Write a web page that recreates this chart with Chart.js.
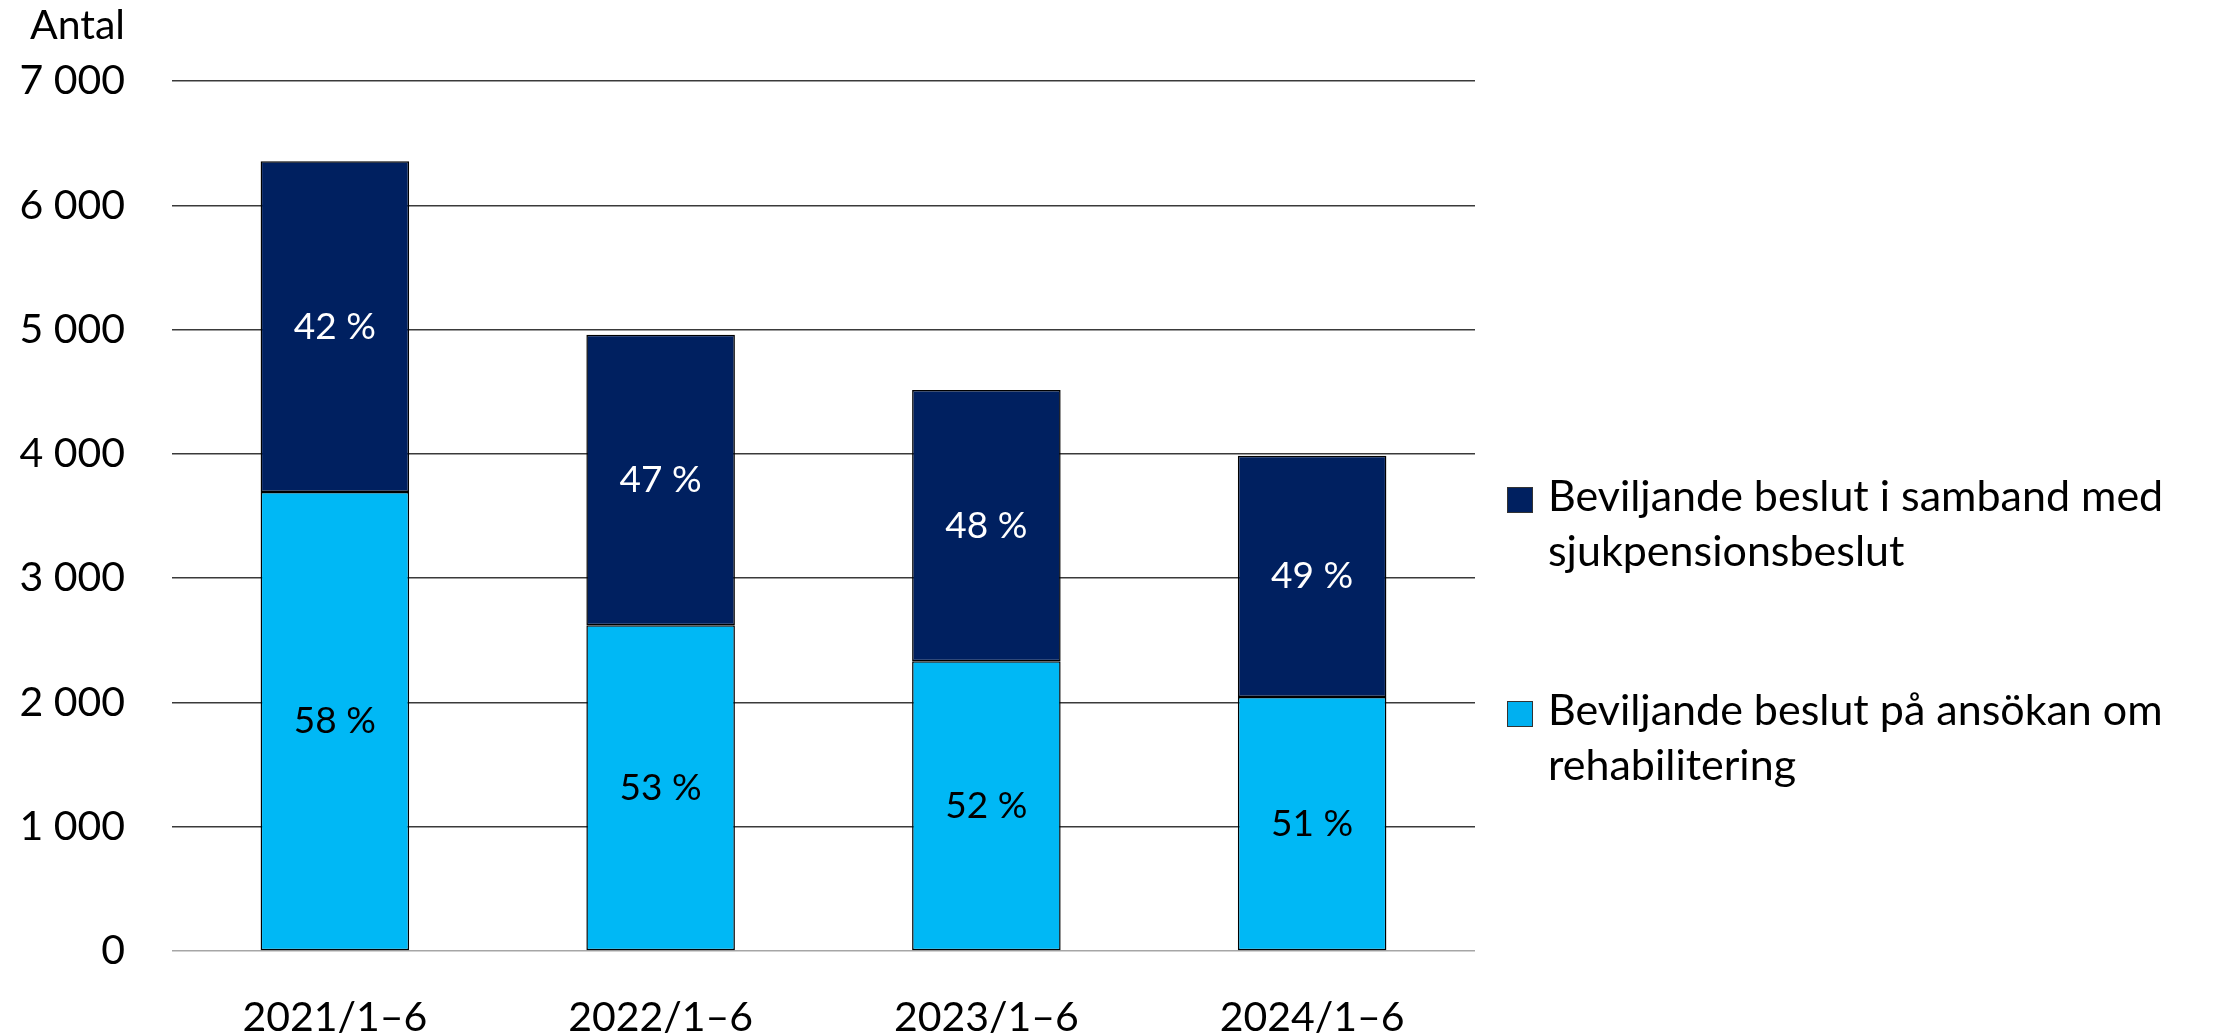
<!DOCTYPE html>
<html lang="sv">
<head>
    <meta charset="UTF-8">
    <title>Beviljande beslut</title>
    <script src="https://cdn.jsdelivr.net/npm/chart.js"></script>
    <style>
        html, body {
            margin: 0;
            padding: 0;
            background: white;
            font-family: Lato, sans-serif;
        }
        #wrap {
            position: relative;
            width: 2214px;
            height: 1034px;
        }
        #antal {
            position: absolute;
            left: 0;
            width: 125px;
            top: 3px;
            text-align: right;
            font-size: 41px;
            line-height: 41px;
            color: black;
        }
        .item {
            position: absolute;
            left: 1548px;
            font-size: 43px;
            line-height: 55px;
            white-space: nowrap;
            color: black;
        }
        .box {
            position: absolute;
            left: -41px;
            top: 20px;
            width: 24px;
            height: 24px;
            border: 1px solid #333;
        }
    </style>
</head>
<body>
<div id="wrap">
    <canvas id="myChart" width="2214" height="1034"></canvas>
    <div id="antal">Antal</div>
    <div class="item" style="top:467px"><span class="box" style="background:#002060"></span>Beviljande beslut i samband med<br>sjukpensionsbeslut</div>
    <div class="item" style="top:681px"><span class="box" style="background:#00B0F0"></span>Beviljande beslut på ansökan om<br>rehabilitering</div>
</div>

<script>
    // data
    var periods = ['2021/1–6', '2022/1–6', '2023/1–6', '2024/1–6'];
    var rehab = [3693, 2620, 2331, 2043];        // beslut på ansökan om rehabilitering
    var sjukpension = [2662, 2338, 2182, 1942];  // i samband med sjukpensionsbeslut
    var rehabPct = ['58 %', '53 %', '52 %', '51 %'];
    var sjukPct = ['42 %', '47 %', '48 %', '49 %'];
    var yTicks = [0, 1000, 2000, 3000, 4000, 5000, 6000, 7000];

    function fmt(v) {
        return String(v).replace(/\B(?=(\d{3})+(?!\d))/g, ' ');
    }

    // draws the share labels in the middle of each bar piece
    var pctLabels = {
        id: 'pctLabels',
        afterDatasetsDraw: function(chart) {
            var ctx = chart.ctx;
            var texts = [rehabPct, sjukPct];
            var colors = ['black', 'white'];
            ctx.save();
            ctx.font = '37px Lato';
            ctx.textAlign = 'center';
            ctx.textBaseline = 'middle';
            chart.data.datasets.forEach(function(ds, i) {
                var meta = chart.getDatasetMeta(i);
                ctx.fillStyle = colors[i];
                meta.data.forEach(function(bar, j) {
                    ctx.fillText(texts[i][j], bar.x, (bar.y + bar.base) / 2);
                });
            });
            ctx.restore();
        }
    };

    var ctx = document.getElementById('myChart').getContext('2d');
    var myChart = new Chart(ctx, {
        type: 'bar',
        data: {
            labels: periods,
            datasets: [{
                label: 'Beviljande beslut på ansökan om rehabilitering',
                data: rehab,
                backgroundColor: '#00B8F5',
                borderColor: '#000000',
                borderWidth: 1.5,
                borderSkipped: false
            }, {
                label: 'Beviljande beslut i samband med sjukpensionsbeslut',
                data: sjukpension,
                backgroundColor: '#002060',
                borderColor: '#000000',
                borderWidth: 1.5,
                borderSkipped: false
            }]
        },
        options: {
            responsive: false,
            animation: false,
            layout: {
                padding: { top: 81, right: 739, left: 0, bottom: 0 }
            },
            datasets: {
                bar: { barPercentage: 0.456, categoryPercentage: 1 }
            },
            plugins: {
                legend: { display: false },
                tooltip: { enabled: false }
            },
            scales: {
                x: {
                    stacked: true,
                    grid: { display: false },
                    border: { display: false },
                    ticks: {
                        color: 'black',
                        font: { family: 'Lato', size: 41 },
                        padding: 34,
                        maxRotation: 0
                    },
                    afterFit: function(scale) { scale.height = 83; }
                },
                y: {
                    stacked: true,
                    min: 0,
                    max: 7000,
                    afterBuildTicks: function(scale) {
                        scale.ticks = yTicks.map(function(v) { return { value: v }; });
                    },
                    border: { display: false },
                    grid: {
                        drawTicks: false,
                        lineWidth: 1.5,
                        color: function(c) {
                            return c.tick && c.tick.value === 0 ? '#a6a6a6' : '#3a3a3a';
                        }
                    },
                    ticks: {
                        color: 'black',
                        font: { family: 'Lato', size: 41 },
                        padding: 47,
                        callback: function(v) { return fmt(v); }
                    },
                    afterFit: function(scale) { scale.width = 172; }
                }
            }
        },
        plugins: [pctLabels]
    });
</script>
</body>
</html>
